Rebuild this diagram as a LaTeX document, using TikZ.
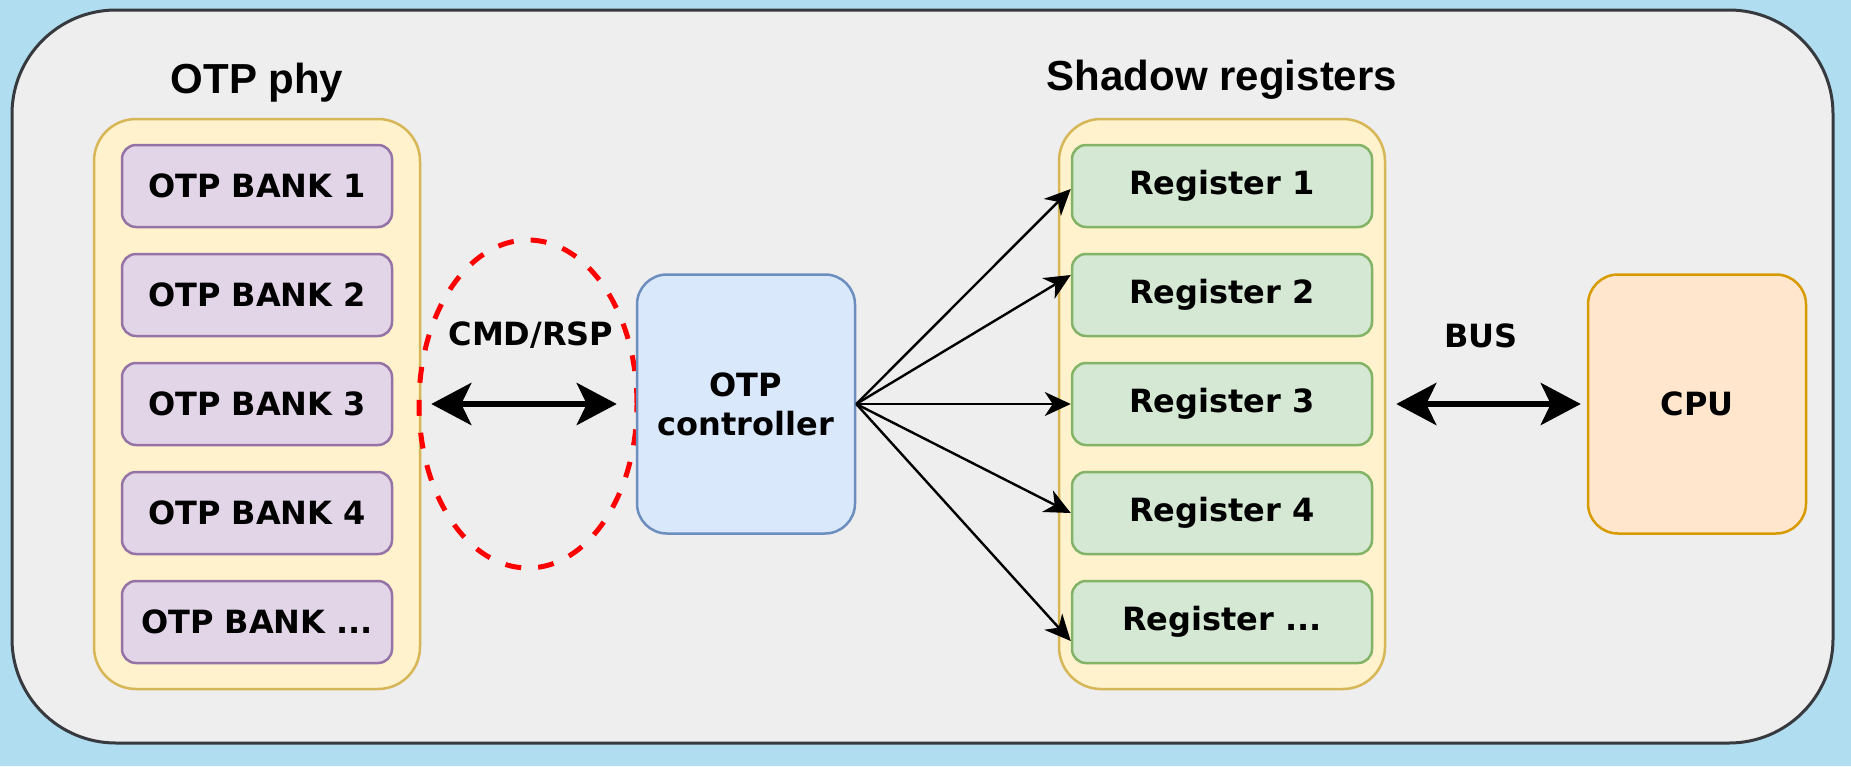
\documentclass[tikz,border=0pt]{standalone}
\usepackage{fontspec}
\setmainfont{DejaVu Sans}
\newfontfamily\titlefont{Liberation Sans}
\usetikzlibrary{shapes.geometric,arrows.meta}
\definecolor{bgblue}{HTML}{B1DDF0}
\definecolor{outerfill}{HTML}{EEEEEE}
\definecolor{outerline}{HTML}{36393D}
\definecolor{yelfill}{HTML}{FFF2CC}
\definecolor{yelline}{HTML}{D6B656}
\definecolor{purfill}{HTML}{E1D5E7}
\definecolor{purline}{HTML}{9673A6}
\definecolor{blufill}{HTML}{DAE8FC}
\definecolor{bluline}{HTML}{6C8EBF}
\definecolor{grnfill}{HTML}{D5E8D4}
\definecolor{grnline}{HTML}{82B366}
\definecolor{orgfill}{HTML}{FFE6CC}
\definecolor{orgline}{HTML}{D79B00}
\begin{document}
\begin{tikzpicture}[x=1pt,y=-1pt,
  lbl/.style={font=\fontsize{32}{39}\selectfont\bfseries, align=center},
  ttl/.style={font=\titlefont\fontsize{42}{50}\selectfont\bfseries},
  outerbox/.style={draw=outerline, fill=outerfill, line width=3pt, rounded corners=104pt, inner sep=0pt},
  contbox/.style={draw=yelline, fill=yelfill, line width=2.5pt, rounded corners=42pt, inner sep=0pt, minimum width=326pt, minimum height=570pt},
  bankbox/.style={lbl, draw=purline, fill=purfill, line width=2.5pt, rounded corners=14pt, inner sep=0pt, minimum width=270pt, minimum height=82pt},
  regbox/.style={lbl, draw=grnline, fill=grnfill, line width=2.5pt, rounded corners=14pt, inner sep=0pt, minimum width=300pt, minimum height=82pt},
  bigbox/.style={lbl, line width=2.5pt, rounded corners=30pt, inner sep=0pt, minimum width=218pt, minimum height=259pt},
  bigarrow/.style={line width=6pt, {Stealth[length=40pt,width=42pt,inset=10pt]}-{Stealth[length=40pt,width=42pt,inset=10pt]}},
  thinarrow/.style={line width=2.4pt, -{Stealth[length=26pt,width=24pt,inset=8pt]}},
  ring/.style={ellipse, draw=red, line width=5pt, dash pattern=on 16pt off 17pt, inner sep=0pt, minimum width=218pt, minimum height=328pt}
]
\useasboundingbox (0,0) rectangle (1851,766);
\fill[bgblue] (0,0) rectangle (1851,766);
\node[outerbox, minimum width=1821pt, minimum height=733pt] (outer) at (922.5,376.5) {};

% OTP phy
\node[ttl] (phyttl) at (257,83) {OTP phy};
\node[contbox] (phy) at (257,404) {};
\node[bankbox] (b1) at (257,186) {OTP BANK 1};
\node[bankbox] (b2) at (257,295) {OTP BANK 2};
\node[bankbox] (b3) at (257,404) {OTP BANK 3};
\node[bankbox] (b4) at (257,513) {OTP BANK 4};
\node[bankbox] (b5) at (257,622) {OTP BANK ...};

% ring and controller
\node[ring] (ring) at (528,404) {};
\node[lbl] (cmd) at (531,335) {CMD/RSP};
\node[bigbox, draw=bluline, fill=blufill] (ctrl) at (746,404) {OTP\\controller};

% shadow registers
\node[ttl] (shttl) at (1222,80) {Shadow registers};
\node[contbox] (sh) at (1222,404) {};
\node[regbox] (r1) at (1222,186) {Register 1};
\node[regbox] (r2) at (1222,295) {Register 2};
\node[regbox] (r3) at (1222,404) {Register 3};
\node[regbox] (r4) at (1222,513) {Register 4};
\node[regbox] (r5) at (1222,622) {Register ...};

% CPU
\node[lbl] (bus) at (1481,336) {BUS};
\node[bigbox, draw=orgline, fill=orgfill] (cpu) at (1697,404) {CPU};

% connectors
\draw[bigarrow, shorten <=10pt, shorten >=19pt] (phy.east) -- (ctrl.west);
\draw[bigarrow, shorten <=10pt, shorten >=6pt] (sh.east) -- (cpu.west);
\draw[thinarrow] (ctrl.east) -- ([yshift=-3pt]r1.west);
\draw[thinarrow] (ctrl.east) -- ([yshift=20pt]r2.west);
\draw[thinarrow] (ctrl.east) -- (r3.west);
\draw[thinarrow] (ctrl.east) -- (r4.west);
\draw[thinarrow] (ctrl.east) -- ([yshift=-19pt]r5.west);
\end{tikzpicture}
\end{document}
